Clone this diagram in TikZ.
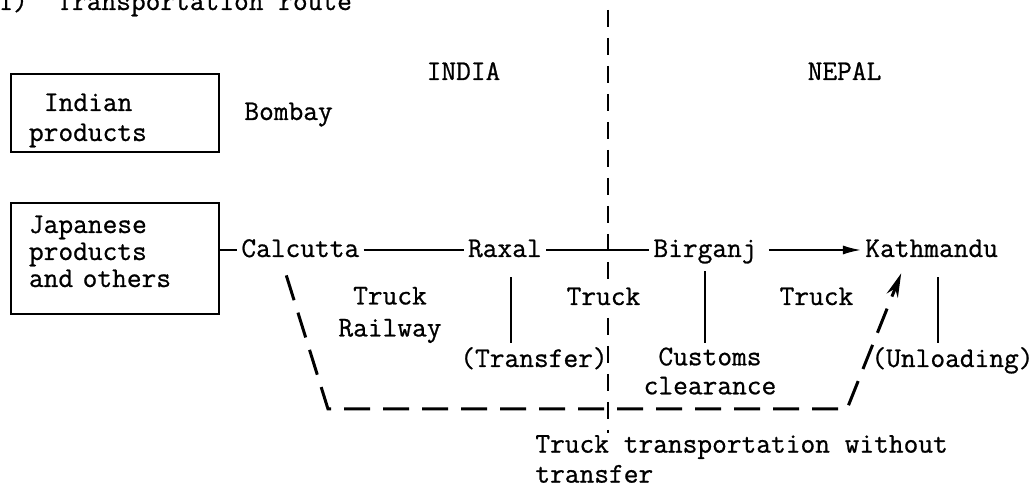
\documentclass[tikz,border=0pt]{standalone}
\usepackage{fontspec}
\setmonofont{Latin Modern Mono}[FakeBold=0.8]
\usepackage{tikz}
\usetikzlibrary{arrows.meta,positioning}

\begin{document}
\begin{tikzpicture}[
  x=0.5pt, y=-0.5pt,
  >=Stealth,
  node distance=50pt,
  every node/.style={font=\ttfamily\fontsize{14.3pt}{16pt}\selectfont, inner sep=2pt},
  box/.style={draw, line width=1pt, anchor=north west, inner xsep=9pt, inner ysep=0pt, text width=86pt, align=left},
  place/.style={text height=10pt, text depth=3pt},
  link/.style={line width=0.9pt},
  route/.style={line width=1.5pt, dash pattern=on 13pt off 6.5pt, -{Stealth[length=12pt,width=6pt]}},
  border/.style={line width=1pt, dash pattern=on 8.5pt off 5.5pt}
]
\useasboundingbox (0,0) rectangle (1035,491);

% TITLE AND COUNTRIES
\node (title) [anchor=base west] at (-6,10) {1)~~Transportation route};
\node (india) [anchor=base] at (463.5,80) {INDIA};
\node (nepal) [anchor=base] at (844.5,80) {NEPAL};

% BORDER
\coordinate (btop) at (608,10);
\coordinate (bbot) at (608,433);
\draw[border] (btop) -- (bbot);

% ORIGINS
\node (indian) [box, text height=18.5pt, text depth=20.5pt,
                font=\ttfamily\fontsize{14.3pt}{15pt}\selectfont] at (10,73)
               {\hspace*{7.5pt}Indian\\products};
\node (bombay) [place, right=10pt of indian] {Bombay};
\node (japanese) [box, text height=15pt, text depth=40.5pt,
                  font=\ttfamily\fontsize{14.3pt}{13.5pt}\selectfont] at (10,202)
                 {Japanese\\products\\and others};

% CITIES
\node (calcutta)  [place, anchor=west] at (237,250) {Calcutta};
\node (raxal)     [place, right=of calcutta]        {Raxal};
\node (birganj)   [place, right=51.5pt of raxal]    {Birganj};
\node (kathmandu) [place, right=of birganj]         {Kathmandu};

% MODES AND STOPS
\node (rail) [align=center, font=\ttfamily\fontsize{14.3pt}{16pt}\selectfont] at (390,315)
             {Truck\\Railway};
\node (truckmid)   [place, anchor=base, fill=white] at (603.5,305) {Truck};
\node (truckright) [place, anchor=base]             at (816.5,305) {Truck};
\node (transfer)   [place, anchor=base]             at (534,367)   {(Transfer)};
\node (customs) [align=center, font=\ttfamily\fontsize{14.3pt}{14.5pt}\selectfont] at (710,371)
                {Customs\\clearance};
\node (unloading)  [place, anchor=base]             at (952.5,367) {(Unloading)};
\node (direct) [align=left, anchor=west, font=\ttfamily\fontsize{14.3pt}{15pt}\selectfont] at (531,459)
               {Truck transportation without\\transfer};

\draw[link] (calcutta.west -| japanese.east) -- (calcutta.west);
\draw[link] (calcutta) -- (raxal);
\draw[link] (raxal)    -- (birganj);
\draw[link, -{Latex[length=9pt,width=4.5pt]}, shorten <=4pt] (birganj) -- (kathmandu);

\draw[link] ([xshift=3pt,yshift=-5pt]raxal.south) -- ([xshift=3pt]raxal.south |- transfer.north);
\draw[link] ([yshift=-2pt]birganj.south) -- (birganj.south |- customs.north);
\draw[link] ([xshift=3pt,yshift=-5pt]kathmandu.south) -- ([xshift=3pt]kathmandu.south |- unloading.north);

% DIRECT TRUCK ROUTE
\coordinate (c1) at (328,409);
\coordinate (c2) at (847,409);
\draw[route] ([xshift=-7pt,yshift=-4pt]calcutta.south) -- (c1) -- (c2)
             -- ([xshift=-15.25pt,yshift=-3pt]kathmandu.south);
\end{tikzpicture}
\end{document}
